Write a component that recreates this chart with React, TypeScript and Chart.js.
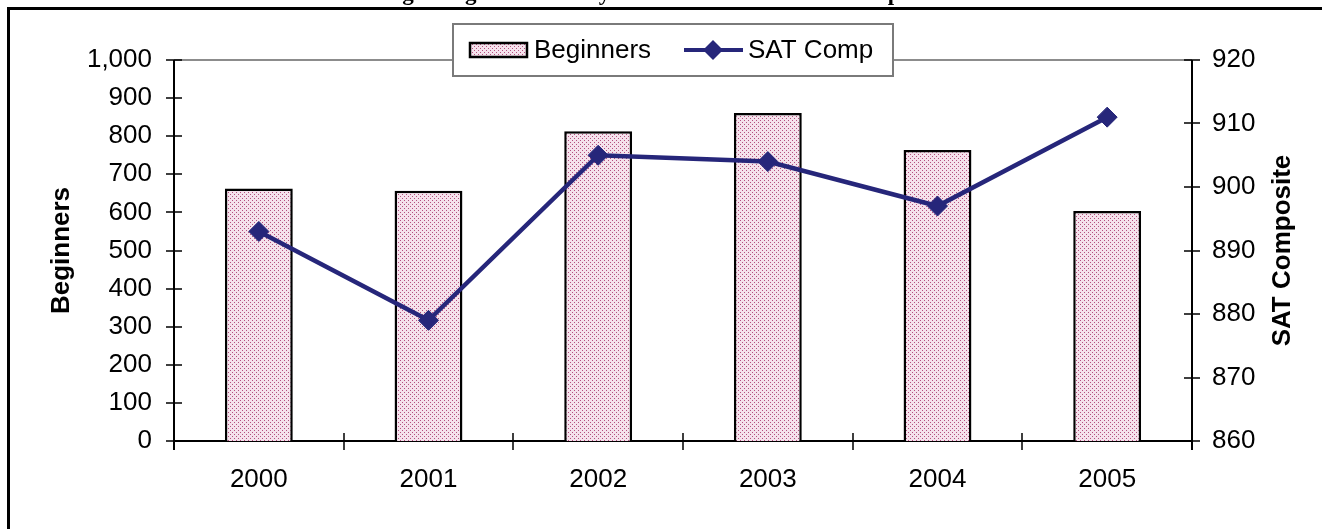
import React, { useEffect, useRef } from 'react';
import { Chart, registerables } from 'chart.js';

Chart.register(...registerables);

const years = ['2000', '2001', '2002', '2003', '2004', '2005'];
const beginners = [663, 657, 813, 861, 764, 604];
const satComposite = [893, 879, 905, 904, 897, 911];
const seriesNames = ['Beginners', 'SAT Comp'];
const chartTitle = 'Beginning Freshmen by Year and Median SAT Composite';
const leftAxisTitle = 'Beginners';
const rightAxisTitle = 'SAT Composite';

const NAVY = '#26267A';
const SANS = "'Liberation Sans', Arial, sans-serif";
const FS = 26;

function makePattern(ctx: CanvasRenderingContext2D) {
  const c = document.createElement('canvas');
  c.width = 4;
  c.height = 4;
  const p = c.getContext('2d')!;
  p.fillStyle = '#F5E2EC';
  p.fillRect(0, 0, 4, 4);
  p.fillStyle = '#B4507F';
  p.fillRect(0, 0, 1, 1);
  p.fillRect(2, 2, 1, 1);
  return ctx.createPattern(c, 'repeat')!;
}

export default function App() {
  const ref = useRef<HTMLCanvasElement>(null);

  useEffect(() => {
    const canvas = ref.current!;
    const ctx = canvas.getContext('2d')!;
    const pattern = makePattern(ctx);

    const decor = {
      id: 'decor',
      beforeDraw(chart: any) {
        const c = chart.ctx;
        c.save();
        c.fillStyle = '#fff';
        c.fillRect(0, 0, chart.width, chart.height);
        c.restore();
      },
      beforeDatasetsDraw(chart: any) {
        const c = chart.ctx;
        const a = chart.chartArea;
        const y = chart.scales.y;
        const y1 = chart.scales.y1;
        c.save();
        c.strokeStyle = '#8C8C8C';
        c.lineWidth = 2;
        c.beginPath();
        c.moveTo(a.left, a.top);
        c.lineTo(a.right, a.top);
        c.stroke();
        c.strokeStyle = '#000';
        c.lineWidth = 2;
        c.beginPath();
        c.moveTo(a.left, a.top);
        c.lineTo(a.left, a.bottom + 9);
        c.moveTo(a.right, a.top);
        c.lineTo(a.right, a.bottom + 9);
        c.moveTo(a.left, a.bottom);
        c.lineTo(a.right, a.bottom);
        c.stroke();
        c.lineWidth = 1.5;
        c.beginPath();
        y.ticks.forEach((t: any) => {
          const py = Math.round(y.getPixelForValue(t.value));
          c.moveTo(a.left - 8, py);
          c.lineTo(a.left + 8, py);
        });
        y1.ticks.forEach((t: any) => {
          const py = Math.round(y1.getPixelForValue(t.value));
          c.moveTo(a.right - 8, py);
          c.lineTo(a.right + 8, py);
        });
        const n = years.length;
        for (let i = 1; i < n; i++) {
          const px = Math.round(a.left + (i * (a.right - a.left)) / n);
          c.moveTo(px, a.bottom - 8);
          c.lineTo(px, a.bottom + 9);
        }
        c.stroke();
        c.restore();
      },
      afterDraw(chart: any) {
        const c = chart.ctx;
        const a = chart.chartArea;
        c.save();
        c.strokeStyle = '#000';
        c.lineWidth = 3;
        c.strokeRect(8.5, 8.5, 1400, 600);
        c.fillStyle = '#000';
        c.font = "bold 23px 'Liberation Serif', 'Times New Roman', serif";
        c.textAlign = 'center';
        c.textBaseline = 'alphabetic';
        c.fillText(chartTitle, 661, 0);
        const midY = (a.top + a.bottom) / 2;
        c.font = `bold 26px ${SANS}`;
        c.textBaseline = 'middle';
        c.save();
        c.translate(62, midY);
        c.rotate(-Math.PI / 2);
        c.fillText(leftAxisTitle, 0, 0);
        c.restore();
        c.save();
        c.translate(1283, midY);
        c.rotate(-Math.PI / 2);
        c.fillText(rightAxisTitle, 0, 0);
        c.restore();
        // legend
        c.fillStyle = '#fff';
        c.fillRect(452, 23, 442, 54);
        c.strokeStyle = '#7A7A7A';
        c.lineWidth = 2;
        c.strokeRect(453, 24, 440, 52);
        c.fillStyle = pattern;
        c.fillRect(470, 43, 57, 14);
        c.strokeStyle = '#000';
        c.lineWidth = 2.5;
        c.strokeRect(470, 43, 57, 14);
        c.fillStyle = '#000';
        c.font = `${FS}px ${SANS}`;
        c.textAlign = 'left';
        c.textBaseline = 'middle';
        c.fillText(seriesNames[0], 534, 51);
        c.strokeStyle = NAVY;
        c.lineWidth = 4;
        c.beginPath();
        c.moveTo(684, 50);
        c.lineTo(743, 50);
        c.stroke();
        c.fillStyle = NAVY;
        c.beginPath();
        c.moveTo(713, 40);
        c.lineTo(723, 50);
        c.lineTo(713, 60);
        c.lineTo(703, 50);
        c.closePath();
        c.fill();
        c.fillStyle = '#000';
        c.fillText(seriesNames[1], 748, 51);
        c.restore();
      },
    };

    const tickFont = { family: SANS, size: FS };

    const chart = new Chart(ctx, {
      type: 'bar',
      data: {
        labels: years,
        datasets: [
          {
            type: 'line',
            label: seriesNames[1],
            data: satComposite,
            yAxisID: 'y1',
            borderColor: NAVY,
            backgroundColor: NAVY,
            borderWidth: 4.5,
            pointStyle: 'rectRot',
            pointRadius: 10,
            pointBorderWidth: 1,
            pointBackgroundColor: NAVY,
            pointBorderColor: NAVY,
            tension: 0,
            order: 0,
          } as any,
          {
            type: 'bar',
            label: seriesNames[0],
            data: beginners,
            yAxisID: 'y',
            backgroundColor: pattern,
            borderColor: '#000',
            borderWidth: 2.5,
            categoryPercentage: 1,
            barPercentage: 0.4,
            order: 1,
          },
        ],
      },
      options: {
        responsive: false,
        animation: false,
        layout: { padding: { top: 60, left: 0, right: 0, bottom: 0 } },
        plugins: {
          legend: { display: false },
          title: { display: false },
          tooltip: { enabled: false },
        },
        scales: {
          x: {
            type: 'category',
            grid: { display: false, drawTicks: false },
            border: { display: false },
            ticks: {
              color: '#000',
              font: tickFont,
              padding: 23,
              maxRotation: 0,
              autoSkip: false,
            },
            afterFit: (s: any) => {
              s.height = 88;
            },
          },
          y: {
            position: 'left',
            min: 0,
            max: 1000,
            grid: { display: false, drawTicks: false },
            border: { display: false },
            ticks: {
              stepSize: 100,
              color: '#000',
              font: tickFont,
              padding: 22,
              callback: (v: any) => Number(v).toLocaleString('en-US'),
            },
            afterFit: (s: any) => {
              s.width = 174;
            },
          },
          y1: {
            position: 'right',
            min: 860,
            max: 920,
            grid: { display: false, drawTicks: false },
            border: { display: false },
            ticks: {
              stepSize: 10,
              color: '#000',
              font: tickFont,
              padding: 20,
            },
            afterFit: (s: any) => {
              s.width = 130;
            },
          },
        },
      },
      plugins: [decor],
    });

    return () => chart.destroy();
  }, []);

  return (
    <canvas
      ref={ref}
      width={1322}
      height={529}
      style={{ position: 'absolute', left: 0, top: 0, width: 1322, height: 529 }}
    />
  );
}
